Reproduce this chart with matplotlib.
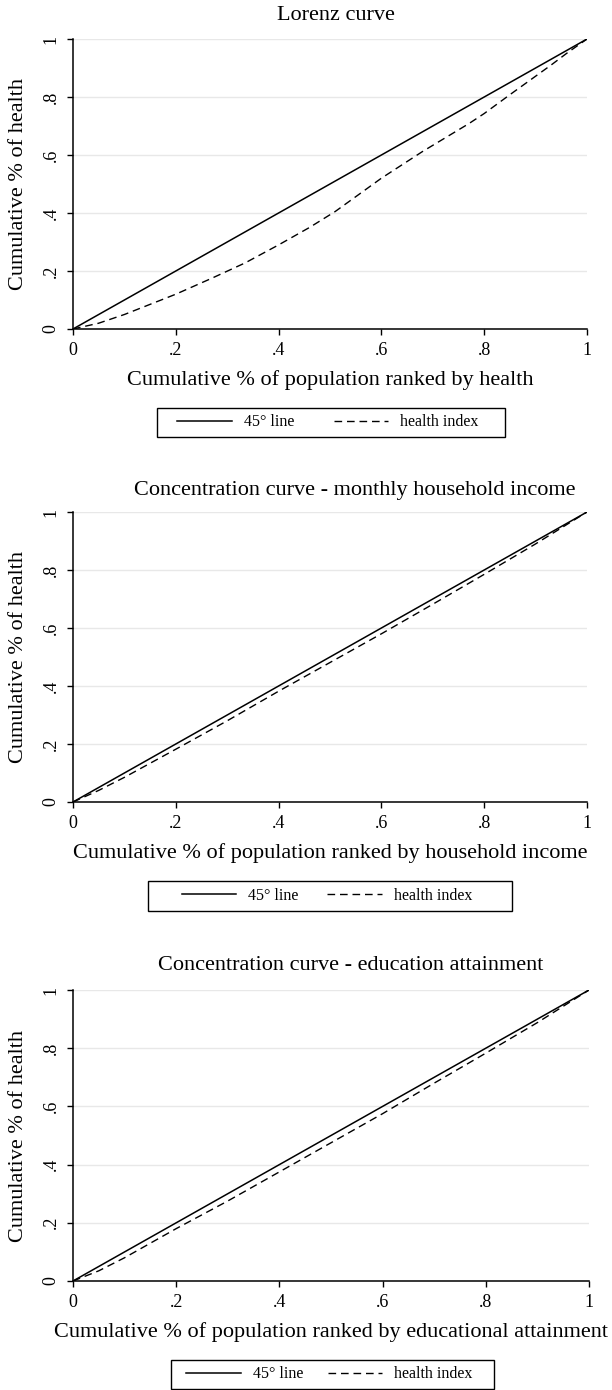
import matplotlib.pyplot as plt
from matplotlib.patches import Rectangle

plt.rcParams['font.family'] = ['Liberation Serif', 'DejaVu Serif']

# 45 degree reference line
diag = [0, 1]

# Lorenz curve of the health index
lorenz_x = [0, 0.05, 0.10, 0.20, 0.27, 0.335, 0.40, 0.46, 0.51, 0.60, 0.68, 0.77, 0.80, 0.85, 0.93, 0.96, 1]
lorenz_y = [0, 0.02, 0.05, 0.12, 0.175, 0.228, 0.29, 0.35, 0.405, 0.52, 0.612, 0.708, 0.743, 0.808, 0.91, 0.95, 1]

# concentration curve, ranked by monthly household income
income_x = [0, 0.05, 0.10, 0.20, 0.30, 0.40, 0.50, 0.60, 0.70, 0.80, 0.90, 0.95, 1]
income_y = [0, 0.04, 0.085, 0.182, 0.28, 0.382, 0.481, 0.58, 0.682, 0.785, 0.89, 0.945, 1]

# concentration curve, ranked by education attainment
edu_x = [0, 0.05, 0.10, 0.20, 0.30, 0.40, 0.50, 0.60, 0.70, 0.80, 0.90, 0.95, 1]
edu_y = [0, 0.035, 0.08, 0.18, 0.275, 0.375, 0.475, 0.575, 0.68, 0.783, 0.888, 0.944, 1]

tick_vals = [0, 0.2, 0.4, 0.6, 0.8, 1]
tick_text = ['0', '.2', '.4', '.6', '.8', '1']

titles = ['Lorenz curve',
          'Concentration curve - monthly household income',
          'Concentration curve - education attainment']
xlabels = ['Cumulative % of population ranked by health',
           'Cumulative % of population ranked by household income',
           'Cumulative % of population ranked by educational attainment']
ylabel = 'Cumulative % of health'
series = [(lorenz_x, lorenz_y), (income_x, income_y), (edu_x, edu_y)]

W, H = 612, 1390

# pixel layout of each panel: axes box, title centre, legend box, column spacing
layout = [
    dict(box=(73, 39, 587, 329), title=(336, 15), leg=(157, 408, 505, 437), colsp=2.5),
    dict(box=(73, 512, 587, 802), title=(355, 490), leg=(148, 881, 512, 911), colsp=1.8),
    dict(box=(73, 990, 589, 1281), title=(351, 966), leg=(171, 1360, 494, 1389), colsp=1.55),
]


def fx(px):
    return px / W


def fy(py):
    return 1 - py / H


fig = plt.figure(figsize=(W / 100, H / 100), dpi=100)

for (x, y), title, xlab, lay in zip(series, titles, xlabels, layout):
    l, t, r, b = lay['box']
    ax = fig.add_axes([fx(l), fy(b), (r - l) / W, (b - t) / H])
    ax.plot(diag, diag, color='black', lw=1.1, label='45° line')
    ax.plot(x, y, color='black', lw=1.0, ls=(0, (5.5, 3.5)), label='health index')

    ax.set_xlim(0, 1)
    ax.set_ylim(0, 1)
    ax.set_xticks(tick_vals, tick_text)
    ax.set_yticks(tick_vals, tick_text, rotation=90, va='center')
    ax.tick_params(length=4.5, width=1, labelsize=13, pad=5, colors='black')
    ax.yaxis.grid(True, color='#e8e8e8', lw=1)
    ax.set_axisbelow(True)
    for side in ['top', 'right']:
        ax.spines[side].set_visible(False)
    for side in ['left', 'bottom']:
        ax.spines[side].set_linewidth(1.1)

    tx, ty = lay['title']
    fig.text(fx(tx), fy(ty), title, fontsize=16, ha='center', va='center')
    fig.text(fx((l + r) / 2), fy(b + 51), xlab, fontsize=16, ha='center', va='center')
    fig.text(fx(19), fy((t + b) / 2), ylabel, fontsize=16, rotation=90, ha='center', va='center')

    # legend below the plot, framed with a plain square box
    ll, lt, lr, lb = lay['leg']
    handles, labels = ax.get_legend_handles_labels()
    fig.legend(handles, labels, loc='center', bbox_to_anchor=(fx((ll + lr) / 2 - 3), fy((lt + lb) / 2)),
               ncol=2, frameon=False, fontsize=11.5, handlelength=3.4,
               handletextpad=0.75, columnspacing=lay['colsp'])
    fig.patches.append(Rectangle((fx(ll), fy(lb)), (lr - ll) / W, (lb - lt) / H,
                                 transform=fig.transFigure, fill=False,
                                 edgecolor='black', lw=1.0))

fig.savefig('out.png', dpi=100)
